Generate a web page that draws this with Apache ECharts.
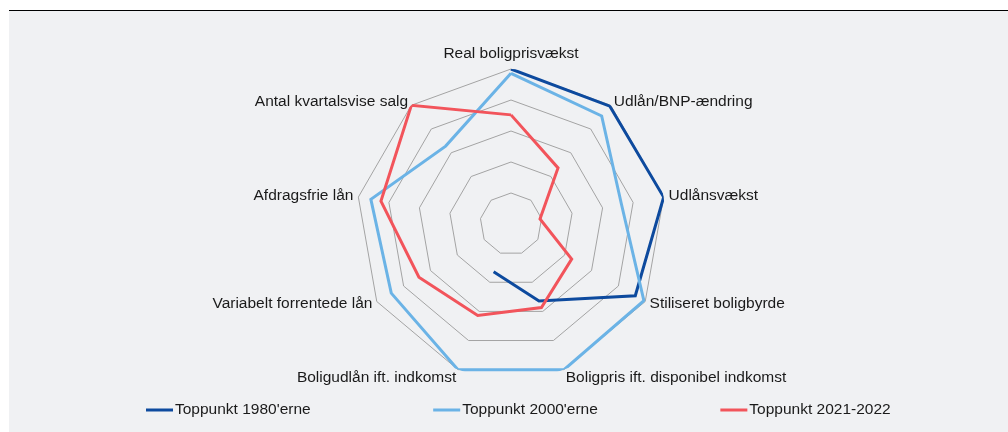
<!DOCTYPE html>
<html>
<head>
<meta charset="utf-8">
<script src="https://cdn.jsdelivr.net/npm/echarts@6/dist/echarts.min.js"></script>
<style>
  html, body { margin: 0; padding: 0; background: #ffffff; }
  #frame { position: absolute; left: 9px; top: 10px; width: 999px; height: 422px;
           background: #f0f1f3; border-top: 1px solid #000; box-sizing: border-box; }
  #chart { position: absolute; left: 0; top: 0; width: 1008px; height: 432px; }
</style>
</head>
<body>
<div id="frame"></div>
<div id="chart"></div>
<script>
// Categories in clockwise order starting at the top
const categories = [
  'Real boligprisvækst',
  'Udlån/BNP-ændring',
  'Udlånsvækst',
  'Stiliseret boligbyrde',
  'Boligpris ift. disponibel indkomst',
  'Boligudlån ift. indkomst',
  'Variabelt forrentede lån',
  'Afdragsfrie lån',
  'Antal kvartalsvise salg'
];
const seriesNames = ["Toppunkt 1980'erne", "Toppunkt 2000'erne", 'Toppunkt 2021-2022'];
const peak1980 = [5.0, 4.96, 5.0, 4.63, 2.64, 1.64, null, null, null];
const peak2000 = [4.86, 4.55, 3.62, 4.95, 5.0, 5.0, 4.46, 4.59, 3.28];
const peak2021 = [3.52, 2.36, 0.95, 2.26, 2.87, 3.14, 3.43, 4.26, 5.0];
const scaleMax = 5;
const colors = ['#0d4a9e', '#6bb3e6', '#f2545b'];

const center = [511, 224];
const radius = 155;
const FONT = 'Liberation Sans, Arial, sans-serif';

// radar indicators go counter-clockwise: reorder so the picture reads clockwise
const indicatorOrder = [0, 8, 7, 6, 5, 4, 3, 2, 1];
const indicators = indicatorOrder.map(i => ({ name: categories[i], min: 0, max: scaleMax }));

function toPolar(values) {
  const pts = values.map((v, i) => [v, i]);
  pts.push([values[0], values.length]); // close the ring
  return pts;
}

const allValues = [peak1980, peak2000, peak2021];
const chart = echarts.init(document.getElementById('chart'), null, { renderer: 'canvas' });
chart.setOption({
  animation: false,
  backgroundColor: 'transparent',
  textStyle: { fontFamily: FONT },
  radar: {
    center: center,
    radius: radius,
    startAngle: 90,
    splitNumber: 5,
    indicator: indicators,
    axisName: {
      color: '#1a1a1a', fontSize: 15.5, fontFamily: FONT,
      formatter: function (name) {
        const idx = categories.indexOf(name);
        if (idx === 0) return '{up|' + name + '}';
        if (idx === 4 || idx === 5) return '{dn|' + name + '}';
        return name;
      },
      rich: {
        up: { fontSize: 15.5, fontFamily: FONT, color: '#1a1a1a', padding: [0, 0, 2, 0] },
        dn: { fontSize: 15.5, fontFamily: FONT, color: '#1a1a1a', padding: [6, 0, 0, 0] }
      }
    },
    nameGap: 5,
    axisLine: { show: false },
    axisTick: { show: false },
    axisLabel: { show: false },
    splitArea: { show: false },
    splitLine: { lineStyle: { color: '#a3a3a3', width: 1 } }
  },
  polar: { center: center, radius: radius },
  angleAxis: {
    type: 'value', min: 0, max: categories.length, startAngle: 90, clockwise: true,
    axisLine: { show: false }, axisTick: { show: false }, axisLabel: { show: false },
    splitLine: { show: false }
  },
  radiusAxis: {
    type: 'value', min: 0, max: scaleMax,
    axisLine: { show: false }, axisTick: { show: false }, axisLabel: { show: false },
    splitLine: { show: false }
  },
  legend: {
    left: 141, top: 397,
    itemWidth: 27, itemHeight: 3, itemGap: 122.5,
    icon: 'rect',
    textStyle: { fontSize: 15.5, color: '#1a1a1a', fontFamily: FONT, padding: [0, 0, 0, -3] },
    data: seriesNames
  },
  series: allValues.map((vals, k) => ({
    name: seriesNames[k],
    type: 'line',
    coordinateSystem: 'polar',
    data: toPolar(vals),
    showSymbol: false,
    symbol: 'none',
    connectNulls: false,
    color: colors[k],
    lineStyle: { width: 3, color: colors[k], join: 'miter' },
    z: 3 + k
  }))
});
</script>
</body>
</html>
